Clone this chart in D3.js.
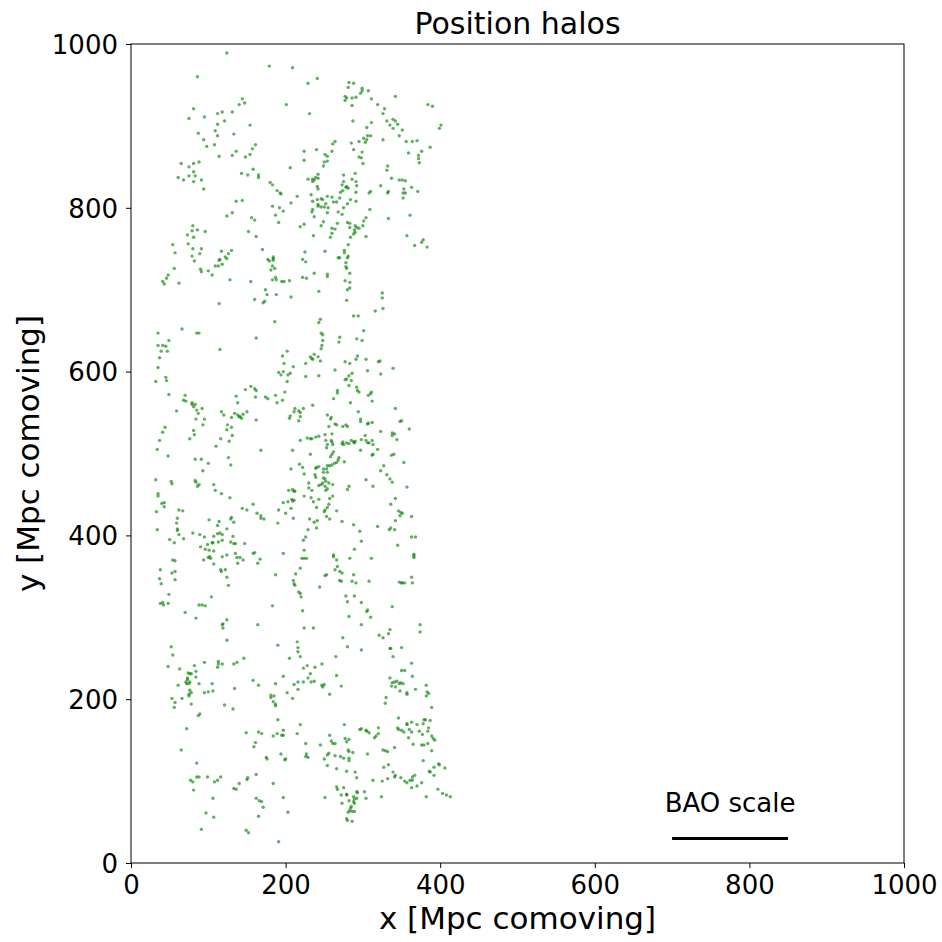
<!DOCTYPE html>
<html>
<head>
<meta charset="utf-8">
<script src="https://cdn.jsdelivr.net/npm/d3@7"></script>
<style>
  body { margin: 0; background: #fff; }
  text { font-family: "DejaVu Sans", sans-serif; }
</style>
</head>
<body>
<div id="chart"></div>
<script>
// halo positions [x, y] in Mpc comoving
var halosTop = [
  [124,989],[179,973],[209,971],[86,960],[144,933],[140,926],[147,928],[201,926],[81,921],[95,911],
  [112,915],[118,917],[131,917],[75,909],[121,906],[112,902],[154,901],[109,894],[87,891],[112,888],
  [133,890],[94,883],[98,875],[108,877],[161,877],[157,872],[136,869],[114,863],[131,864],[148,862],
  [154,865],[65,854],[81,854],[88,856],[75,850],[81,844],[75,839],[83,839],[61,837],[68,834],
  [81,832],[91,834],[94,823],[143,842],[151,840],[158,847],[165,840],[165,837],[206,849],[180,831],
  [183,828],[189,821],[193,818],[194,817],[215,814],[136,808],[144,809],[207,806],
  [241,958],[229,952],[282,953],[288,952],[281,947],[299,946],[299,943],[307,943],[297,940],[277,936],
  [279,934],[286,934],[291,935],[277,931],[342,936],[311,933],[286,925],[319,926],[384,926],[390,924],
  [328,921],[231,915],[326,915],[287,906],[311,904],[331,906],[339,908],[342,906],[345,902],[335,901],
  [339,897],[305,898],[401,901],[399,897],[351,895],[347,888],[306,888],[310,888],[301,885],[305,883],
  [303,880],[326,883],[356,881],[364,881],[370,882],[387,874],[264,881],[261,878],[285,879],[295,881],
  [288,871],[224,869],[240,871],[260,869],[299,868],[251,865],[254,863],[295,862],[298,861],[359,867],
  [376,869],[372,864],[372,860],[373,855],[224,858],[250,856],[254,857],[249,851],[300,854],[332,851],
  [331,846],[242,841],[229,835],[235,835],[235,832],[239,837],[242,836],[237,834],[275,840],[290,842],
  [286,835],[291,832],[275,832],[273,828],[278,825],[279,826],[281,824],[274,821],[292,827],[337,836],
  [347,834],[351,834],[355,833],[323,827],[241,826],[242,823],[363,825],[353,823],[371,820],[333,820],
  [332,818],[310,820],[308,818],[355,818],[352,818],[352,812],[233,816],[254,814],[260,813],[246,811],
  [241,810],[248,810],[235,808],[242,804],[252,805],[262,807],[266,807],[270,812],[280,805],[284,810],
  [291,808],[271,819],[291,819]
];

var halosUpper = [
  [183,802],[192,800],[197,796],[131,794],[124,790],[156,788],[160,785],[187,791],[191,782],[80,778],
  [79,772],[86,773],[96,771],[73,767],[81,764],[152,771],[162,765],[54,755],[74,756],[80,750],
  [91,750],[57,745],[89,744],[79,741],[82,735],[117,747],[130,748],[126,744],[122,740],[124,738],
  [115,737],[114,736],[118,731],[109,729],[113,729],[170,749],[177,737],[179,735],[184,740],[184,738],
  [184,736],[183,729],[181,724],[186,726],[56,726],[48,718],[46,714],[41,710],[43,707],[62,708],
  [90,725],[91,722],[100,723],[105,718],[128,712],[155,710],[183,712],[187,715],[188,712],[195,710],
  [198,710],[205,711],[174,700],[176,694],[188,694],[207,691],[160,688],[173,686],[171,684],[114,683],
  [186,661],[66,652],[35,647],[85,647],[88,647],[162,641],[49,638],[35,632],[41,632],[45,631],
  [39,625],[47,625],[115,627],[202,625],[196,619],[37,617],[198,610],
  [234,795],[235,798],[242,802],[246,801],[250,801],[255,800],[254,794],[268,795],[275,800],[273,792],
  [309,798],[237,789],[249,783],[224,780],[219,777],[246,778],[267,781],[280,782],[283,781],[283,776],
  [290,778],[292,776],[295,775],[289,773],[290,770],[288,768],[300,778],[301,784],[304,788],[260,775],
  [264,774],[260,769],[258,764],[284,764],[304,765],[333,787],[361,791],[236,766],[357,766],[378,761],
  [376,758],[367,754],[383,752],[281,755],[276,748],[276,745],[225,746],[251,747],[281,741],[280,739],
  [268,739],[270,739],[278,733],[222,737],[226,734],[278,728],[279,726],[237,720],[254,719],[254,716],
  [283,720],[222,715],[227,714],[277,711],[283,709],[283,702],[280,700],[243,698],[279,687],[325,696],
  [325,690],[326,677],[316,674],[288,668],[294,668],[245,664],[243,660],[301,650],[246,647],[248,645],
  [270,642],[292,640],[299,638],[269,636],[248,638],[247,632],[246,628],[237,621],[232,618],[234,616],
  [235,615],[242,618],[245,613],[226,610],[293,619],[291,615],[304,615],[277,612],[283,610],[320,612],
  [322,613]
];

var halosMiddle = [
  [35,605],[32,588],[45,593],[46,589],[191,599],[197,600],[203,596],[194,596],[210,606],[206,598],
  [202,588],[49,572],[70,571],[68,565],[71,564],[79,562],[79,560],[83,560],[81,557],[85,553],
  [92,555],[59,552],[87,549],[95,542],[84,542],[93,535],[44,532],[41,526],[81,528],[82,523],
  [76,518],[37,516],[34,505],[48,497],[148,578],[155,582],[160,579],[162,577],[136,570],[138,562],
  [161,569],[174,569],[177,567],[187,571],[199,575],[196,565],[189,562],[117,551],[120,547],[130,544],
  [134,549],[138,547],[141,545],[145,548],[150,551],[143,543],[140,545],[162,541],[125,535],[130,532],
  [124,529],[131,522],[116,518],[127,515],[110,509],[168,504],[209,504],[206,546],[205,543],[211,551],
  [126,495],[129,486],[83,493],[91,493],[100,488],[93,479],[207,481],[32,468],[52,466],[53,463],
  [83,467],[84,465],[88,462],[86,460],[107,462],[109,455],[117,451],[128,446],[35,451],[35,448],
  [40,439],[43,440],[43,435],[33,429],[62,431],[67,430],[60,421],[59,415],[101,419],[114,417],
  [112,412],[130,422],[129,420],[133,416],[144,433],[150,431],[158,438],[163,427],[168,424],[168,421],
  [172,420],[191,431],[200,427],[210,421],[207,433],[204,455],[209,456],[211,454],[197,440],[203,441],
  [208,444],[209,442],[211,443],[190,415],
  [264,602],[306,601],[339,604],[286,598],[282,595],[323,597],[226,594],[243,595],[279,591],[277,590],
  [285,589],[282,583],[292,581],[293,577],[295,575],[267,577],[267,574],[311,575],[310,573],[307,571],
  [312,564],[262,567],[284,562],[235,559],[212,555],[217,552],[219,550],[223,555],[219,545],[217,540],
  [294,551],[342,555],[254,547],[259,544],[258,542],[297,542],[297,539],[264,536],[266,535],[256,533],
  [274,533],[278,535],[280,533],[306,536],[307,537],[312,538],[348,539],[350,540],[360,530],[323,527],
  [338,525],[341,524],[338,522],[344,517],[260,524],[228,519],[232,518],[234,518],[239,520],[243,521],
  [251,523],[219,516],[252,516],[259,516],[260,514],[254,511],[261,511],[253,507],[274,514],[275,511],
  [273,512],[279,513],[282,512],[285,516],[288,514],[290,515],[289,513],[298,517],[303,522],[304,516],
  [306,513],[308,513],[312,516],[313,511],[319,505],[297,504],[262,502],[260,499],[258,496],[269,495],
  [268,492],[263,488],[266,489],[260,486],[254,485],[257,485],[313,499],[312,498],[337,498],[340,499],
  [353,489],[276,490],[232,499],[218,487],[222,483],[240,483],[243,484],[239,482],[249,481],[253,481],
  [249,477],[254,477],[224,475],[238,474],[239,471],[249,470],[251,469],[252,466],[248,464],[246,462],
  [243,461],[256,464],[261,462],[251,460],[254,457],[252,455],[230,464],[230,458],[234,455],[212,454],
  [224,448],[233,446],[236,441],[243,444],[257,445],[261,448],[256,438],[254,434],[251,431],[250,429],
  [266,430],[240,434],[253,423],[257,420],[231,420],[241,418],[237,416],[273,417],[288,413],[282,460],
  [280,456],[304,468],[313,460],[323,479],[327,485],[331,474],[335,469],[338,465],[357,459],[342,445],
  [336,438],[346,430],[349,428],[351,427],[348,424],[363,423],[342,418],[319,411]
];

var halosLower = [
  [34,407],[60,408],[60,406],[62,401],[80,403],[89,401],[95,398],[50,395],[56,391],[68,396],
  [112,402],[115,403],[118,401],[107,399],[124,408],[132,399],[118,394],[113,392],[105,391],[106,391],
  [99,389],[90,386],[96,383],[101,382],[107,381],[129,392],[133,390],[135,390],[147,390],[135,378],
  [137,373],[141,373],[145,370],[138,366],[100,373],[103,372],[102,374],[94,370],[107,365],[118,374],
  [124,376],[158,378],[160,379],[167,371],[164,366],[197,378],[54,370],[57,369],[38,358],[57,356],
  [53,354],[57,346],[37,347],[39,341],[116,358],[117,356],[122,358],[124,349],[126,339],[187,352],
  [210,345],[211,341],[49,328],[104,325],[38,317],[41,318],[42,315],[48,317],[88,315],[92,315],
  [96,314],[183,314],[70,306],[84,299],[124,297],[119,292],[118,291],[119,287],[164,291],[124,272],
  [52,264],[54,254],[48,240],[63,237],[82,241],[95,245],[113,246],[112,239],[113,243],[118,243],
  [137,245],[133,243],[146,250],[84,234],[76,231],[74,232],[78,231],[73,226],[73,224],[84,227],
  [76,221],[71,221],[72,219],[75,219],[61,217],[88,219],[105,219],[190,266],[205,250],[197,228],
  [158,223],[165,217],[187,219],[211,218],
  [229,407],[240,409],[296,405],[334,407],[336,409],[341,407],[223,394],[226,398],[298,393],[363,398],
  [368,398],[345,388],[224,382],[289,383],[262,376],[262,374],[266,370],[283,372],[311,372],[366,377],
  [366,375],[366,373],[221,372],[224,372],[227,372],[219,360],[213,353],[212,339],[267,362],[264,358],
  [270,356],[273,354],[251,351],[253,352],[288,352],[270,345],[272,344],[286,344],[291,342],[308,344],
  [347,343],[350,342],[354,342],[351,342],[364,342],[363,349],[244,337],[217,331],[219,329],[220,325],
  [278,326],[289,326],[280,319],[298,318],[338,313],[306,309],[305,307],[310,300],[282,301],[222,308],
  [224,287],[236,287],[298,291],[374,291],[374,282],[335,285],[333,280],[321,278],[326,275],[274,275],
  [280,264],[298,260],[335,262],[336,262],[350,263],[339,252],[265,252],[215,270],[216,263],[216,258],
  [219,252],[363,244],[247,243],[238,239],[228,241],[223,238],[232,231],[229,226],[266,229],[350,235],
  [354,235],[364,228],[335,226],[216,221],[223,221],[233,221],[237,222],[247,217],[250,218],[248,215],
  [338,220],[341,221],[344,222],[347,219],[349,220],[352,219],[337,216],[342,215],[272,216],[382,217]
];

var halosBottom = [
  [76,211],[78,208],[75,206],[75,204],[95,208],[100,209],[106,210],[134,213],[53,201],[66,201],
  [57,196],[56,190],[78,194],[121,193],[132,188],[181,205],[181,202],[185,204],[184,197],[187,194],
  [187,192],[202,208],[209,201],[89,182],[87,180],[190,175],[72,164],[149,159],[165,160],[169,158],
  [161,147],[159,142],[184,155],[189,158],[195,156],[197,156],[197,162],[65,138],[175,129],[176,127],
  [194,133],[199,126],[200,127],[85,122],[77,101],[80,99],[85,105],[88,105],[99,105],[108,99],
  [112,101],[116,105],[81,89],[140,97],[133,91],[136,90],[150,102],[151,104],[162,108],[184,97],
  [162,79],[166,76],[169,75],[171,68],[197,80],[203,62],[165,57],[106,79],[97,61],[107,56],
  [91,41],[149,40],[152,37],[191,26],
  [216,212],[257,206],[348,210],[357,208],[357,206],[368,212],[383,209],[385,207],[382,204],[330,202],
  [329,195],[389,190],[219,169],[215,158],[276,169],[257,156],[296,163],[298,164],[304,162],[305,161],
  [308,159],[320,165],[320,158],[317,155],[315,153],[346,177],[345,165],[346,163],[350,162],[353,160],
  [357,169],[357,170],[363,172],[360,163],[363,160],[370,169],[378,170],[379,175],[381,175],[387,174],
  [385,165],[373,161],[377,157],[384,161],[389,155],[391,152],[393,150],[384,146],[359,153],[365,145],
  [376,144],[379,144],[277,152],[282,151],[279,148],[259,149],[261,146],[264,146],[245,144],[226,146],
  [227,133],[226,130],[229,129],[256,134],[254,132],[250,127],[264,131],[271,130],[275,128],[282,128],
  [282,125],[281,138],[282,136],[287,135],[306,133],[326,138],[329,137],[332,136],[341,141],[389,137],
  [378,125],[254,119],[266,115],[279,112],[290,111],[292,104],[327,117],[333,120],[339,111],[342,107],
  [341,105],[332,103],[325,100],[313,101],[349,104],[354,100],[357,98],[361,101],[364,101],[367,107],
  [364,105],[376,98],[370,94],[363,92],[386,112],[387,111],[392,107],[392,117],[398,121],[399,120],
  [406,116],[397,90],[403,85],[408,83],[413,81],[382,81],[324,81],[251,80],[266,93],[267,90],
  [275,92],[272,83],[279,84],[279,83],[292,87],[293,86],[288,81],[292,79],[302,87],[304,79],
  [289,78],[288,75],[289,73],[282,76],[273,73],[285,69],[284,67],[286,63],[283,64],[289,63],
  [281,62],[279,54],[280,52],[286,51]
];

var xTicks = [0, 200, 400, 600, 800, 1000];
var yTicks = [0, 200, 400, 600, 800, 1000];
var baoScale = [700, 850];   // BAO bar from x0 to x1
var baoLevel = 30;           // y of the bar

var allHalos = halosTop.concat(halosUpper, halosMiddle, halosLower, halosBottom);

var fullWidth = 942, fullHeight = 942;
var margin = { top: 44, right: 38, bottom: 79, left: 131 };
var width = fullWidth - margin.left - margin.right;
var height = fullHeight - margin.top - margin.bottom;

var svg = d3.select("#chart").append("svg")
  .attr("width", fullWidth)
  .attr("height", fullHeight);

var g = svg.append("g")
  .attr("transform", "translate(" + margin.left + "," + margin.top + ")");

var x = d3.scaleLinear().domain([0, 1000]).range([0, width]);
var y = d3.scaleLinear().domain([0, 1000]).range([height, 0]);

// scatter of halos
g.append("g").selectAll("circle")
  .data(allHalos)
  .enter().append("circle")
  .attr("cx", function(d) { return x(d[0]); })
  .attr("cy", function(d) { return y(d[1]); })
  .attr("r", 1.7)
  .style("fill", "#008000")
  .style("fill-opacity", 0.62);

// BAO scale bar
g.append("line")
  .attr("x1", x(baoScale[0]))
  .attr("x2", x(baoScale[1]))
  .attr("y1", y(baoLevel))
  .attr("y2", y(baoLevel))
  .attr("stroke", "#000")
  .attr("stroke-width", 3);

g.append("text")
  .attr("x", x((baoScale[0] + baoScale[1]) / 2))
  .attr("y", y(baoLevel) - 26)
  .attr("text-anchor", "middle")
  .style("font-size", "26px")
  .text("BAO scale");

// axes
var xAxis = g.append("g")
  .attr("transform", "translate(0," + height + ")")
  .call(d3.axisBottom(x).tickValues(xTicks).tickFormat(d3.format("d")).tickSize(5).tickPadding(8));
var yAxis = g.append("g")
  .call(d3.axisLeft(y).tickValues(yTicks).tickFormat(d3.format("d")).tickSize(5).tickPadding(8));

[xAxis, yAxis].forEach(function(ax) {
  ax.select(".domain").remove();
  ax.selectAll(".tick line").attr("stroke", "#000").attr("stroke-width", 1);
  ax.selectAll(".tick text")
    .style("font-family", "DejaVu Sans, sans-serif")
    .style("font-size", "26px")
    .attr("fill", "#000");
});
yAxis.selectAll(".tick text").attr("dy", "0.36em");

// frame
g.append("rect")
  .attr("width", width)
  .attr("height", height)
  .attr("fill", "none")
  .attr("stroke", "#000")
  .attr("stroke-width", 1);

// titles
svg.append("text")
  .attr("x", margin.left + width / 2)
  .attr("y", 34)
  .attr("text-anchor", "middle")
  .style("font-size", "30px")
  .text("Position halos");

svg.append("text")
  .attr("x", margin.left + width / 2)
  .attr("y", 929)
  .attr("text-anchor", "middle")
  .style("font-size", "31px")
  .text("x [Mpc comoving]");

svg.append("text")
  .attr("transform", "translate(39," + (margin.top + height / 2) + ") rotate(-90)")
  .attr("text-anchor", "middle")
  .style("font-size", "31px")
  .text("y [Mpc comoving]");
</script>
</body>
</html>
